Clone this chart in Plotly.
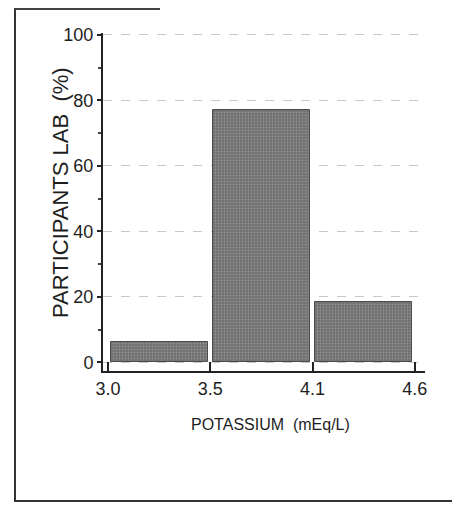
import plotly.graph_objects as go

bin_edges = ["3.0", "3.5", "4.1", "4.6"]
percent = [6.4, 77.0, 18.5]
y_ticks = [0, 20, 40, 60, 80, 100]

OFF = 8  # page body margin
W, H = 461 - OFF, 508 - OFF
# plot area in screen pixels
X0, X1, Y0, Y1 = 103, 425, 33, 371
ML = X0 - OFF
MR = W - (X1 - OFF)
MT = Y0 - OFF
MB = H - (Y1 - OFF)
pw = W - ML - MR
ph = H - MT - MB

def px(x):
    return (x - X0) / pw

def py(y):
    return (Y1 - y) / ph

centers = [i + 0.5 for i in range(len(percent))]

fig = go.Figure()
fig.add_trace(go.Bar(
    x=centers, y=percent, width=0.95,
    marker=dict(color="#6f6f6f",
                line=dict(color="#4a4a4a", width=1),
                pattern=dict(shape=".", fgcolor="#b5b5b5", size=3, solidity=0.3)),
    showlegend=False,
))

fig.update_layout(
    width=W, height=H,
    margin=dict(l=ML, r=MR, t=MT, b=MB),
    paper_bgcolor="white", plot_bgcolor="white",
    font=dict(family="Liberation Sans, Arial", color="#1e1e1e"),
    bargap=0,
    xaxis=dict(
        range=[-0.05, 3.1],
        tickvals=list(range(len(bin_edges))), ticktext=bin_edges,
        ticks="inside", ticklen=9, tickwidth=1.5, tickcolor="#222",
        showline=True, linecolor="#222", linewidth=2,
        showgrid=False, zeroline=False,
        tickfont=dict(size=18),
    ),
    yaxis=dict(
        range=[-2.6, 100.6],
        tickvals=y_ticks,
        ticks="outside", ticklen=4, tickwidth=1.5, tickcolor="#222",
        minor=dict(tickvals=[10, 30, 50, 70, 90], ticks="outside", ticklen=3, tickcolor="#444", showgrid=False),
        showline=True, linecolor="#222", linewidth=2,
        showgrid=True, gridcolor="#c8c8c8", griddash="dash", gridwidth=1,
        zeroline=False,
        tickfont=dict(size=18),
    ),
    annotations=[
        dict(text="PARTICIPANTS LAB  (%)", xref="paper", yref="paper",
             x=px(60), y=py(193), textangle=-90, showarrow=False,
             font=dict(size=22), xanchor="center", yanchor="middle"),
        dict(text="POTASSIUM  (mEq/L)", xref="paper", yref="paper",
             x=px(270), y=py(424), showarrow=False,
             font=dict(size=16), xanchor="center", yanchor="middle"),
    ],
    shapes=[
        dict(type="line", xref="paper", yref="paper", x0=px(15), x1=px(15), y0=py(OFF), y1=py(502),
             line=dict(color="#333", width=2)),
        dict(type="line", xref="paper", yref="paper", x0=px(15), x1=px(452), y0=py(501), y1=py(501),
             line=dict(color="#333", width=2)),
        dict(type="line", xref="paper", yref="paper", x0=px(15), x1=px(160), y0=py(OFF + 1), y1=py(OFF + 1),
             line=dict(color="#444", width=2)),
    ],
)

fig.write_html("out.html")
